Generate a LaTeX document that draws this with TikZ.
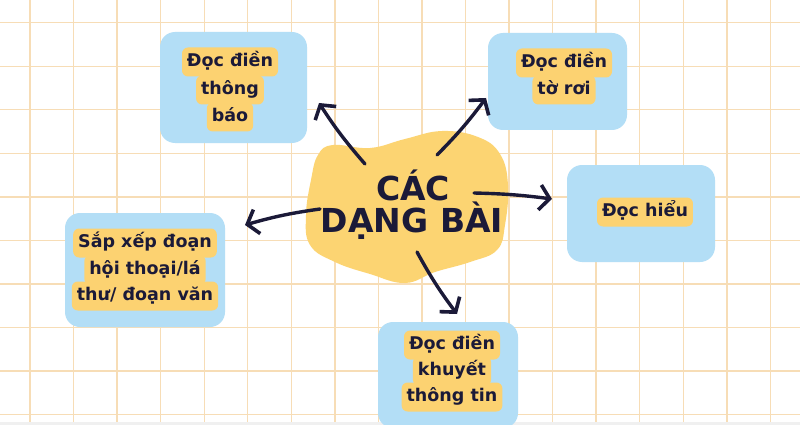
\documentclass[tikz,border=0pt]{standalone}
\usepackage{fontspec}
\setmainfont{DejaVu Sans}
\usetikzlibrary{arrows.meta}
\definecolor{gridc}{HTML}{F7DDB6}
\definecolor{boxblue}{HTML}{B3DEF6}
\definecolor{hl}{HTML}{FCD271}
\definecolor{blob}{HTML}{FCD472}
\definecolor{ink}{HTML}{1B1A38}
\tikzset{
  gridline/.style={draw=gridc, line width=1.4pt},
  bluebox/.style={fill=boxblue, draw=none, rounded corners=15pt, inner sep=0pt},
  hlline/.style={fill=hl, rounded corners=6pt, inner xsep=5pt, inner ysep=6pt,
     text height=13pt, text depth=4pt, text=ink,
     font=\fontsize{17.5}{20}\selectfont\bfseries},
  center/.style={text=ink, font=\fontsize{33}{36}\selectfont\bfseries, inner sep=0pt, anchor=base},
  brush/.style={draw=ink, line width=3.4pt, line cap=round,
     -{Straight Barb[length=10pt,width=25pt,line width=3.6pt]}}
}
\begin{document}
\begin{tikzpicture}[x=1pt,y=-1pt]
\useasboundingbox (0,0) rectangle (800,425);
\fill[white] (0,0) rectangle (800,425);
% grid
\foreach \i in {0,...,17} \draw[gridline] ({30+43.55*\i},0) -- ({30+43.55*\i},422);
\foreach \j in {0,...,9} \draw[gridline] (0,{22.7+43.55*\j}) -- (800,{22.7+43.55*\j});
\fill[gray!12] (0,422) rectangle (800,425);

% blue boxes
\node[bluebox, minimum width=147pt, minimum height=111pt] (b1) at (233.5,87.5) {};
\node[bluebox, minimum width=139pt, minimum height=97pt] (b2) at (557.5,81.5) {};
\node[bluebox, minimum width=148pt, minimum height=97pt] (b3) at (641,213.5) {};
\node[bluebox, minimum width=160pt, minimum height=114pt] (b4) at (145,270) {};
\node[bluebox, minimum width=140pt, minimum height=106pt] (b5) at (448,375) {};

% highlighted labels
\node[hlline] (t11) at (230,62) {Đọc điền};
\node[hlline] (t12) at (230,90) {thông};
\node[hlline] (t13) at (230,117) {báo};

\node[hlline] (t21) at (564,63) {Đọc điền};
\node[hlline] (t22) at (564,90) {tờ rơi};

\node[hlline] (t31) at (645,212) {Đọc hiểu};

\node[hlline] (t41) at (145,243) {Sắp xếp đoạn};
\node[hlline] (t42) at (145,270) {hội thoại/lá};
\node[hlline] (t43) at (145,296) {thư/ đoạn văn};

\node[hlline] (t51) at (452,345) {Đọc điền};
\node[hlline] (t52) at (452,371) {khuyết};
\node[hlline] (t53) at (452,397) {thông tin};

% central blob
\fill[blob] plot[smooth cycle, tension=0.7] coordinates {
 (333,145) (370,148) (405,139) (442,131) (478,137) (500,154) (508,185)
 (505,225) (497,250) (470,262) (435,272) (405,283) (370,274) (335,262)
 (310,245) (306,215) (311,180) (318,155)};
\node[center] (c1) at (413,200) {CÁC};
\node[center] (c2) at (412,232) {DẠNG BÀI};

% arrow endpoints
\coordinate (s1) at (365,164);
\coordinate (e1) at (319,103);
\coordinate (s2) at (437,155);
\coordinate (e2) at (486,98);
\coordinate (s3) at (474,193);
\coordinate (e3) at (552,199);
\coordinate (s4) at (320,209);
\coordinate (e4) at (245,225);
\coordinate (s5) at (417,252);
\coordinate (e5) at (457,314);

\draw[brush] (s1) to[bend left=4] (e1);
\draw[brush] (s2) to[bend right=4] (e2);
\draw[brush] (s3) to[bend left=3] (e3);
\draw[brush] (s4) to[bend right=4] (e4);
\draw[brush] (s5) to[bend right=4] (e5);
\end{tikzpicture}
\end{document}
